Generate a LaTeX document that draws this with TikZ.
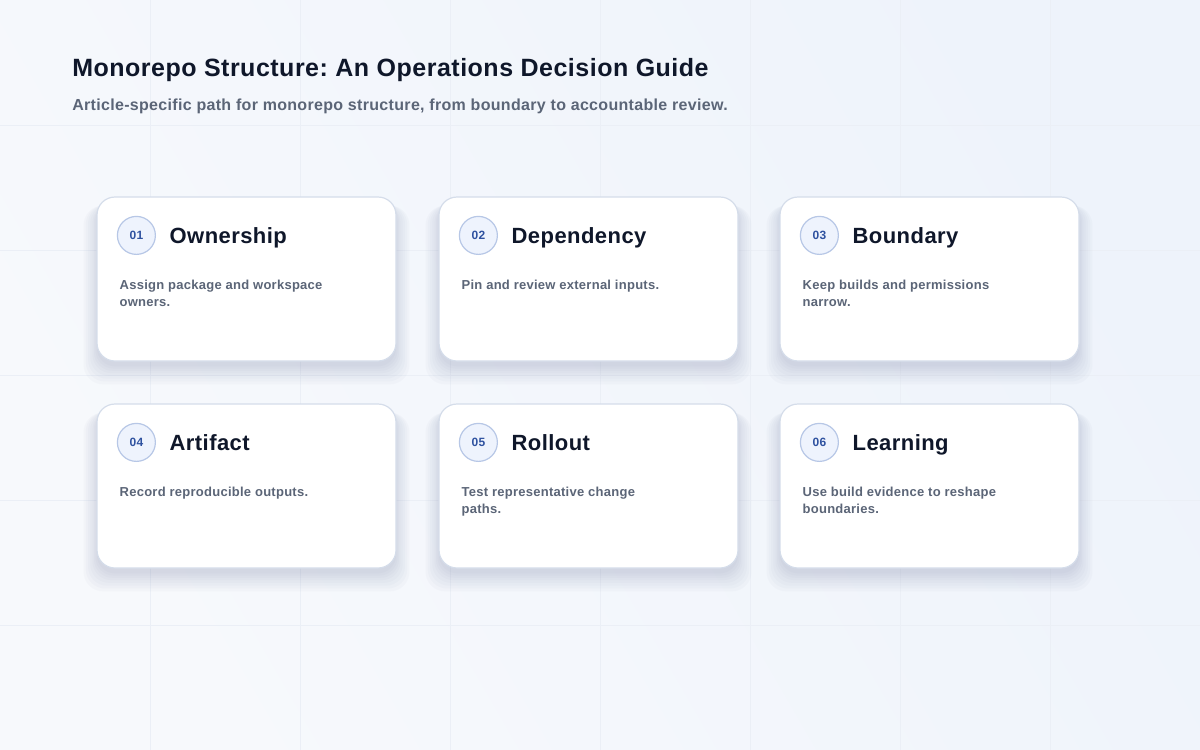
\documentclass[tikz,border=0pt]{standalone}
\usepackage{fontspec}
\setmainfont[LetterSpace=2]{Liberation Sans}
\usepackage{xcolor}
\usepackage{tikz}
\usetikzlibrary{calc,shadows}
\definecolor{PageLight}{HTML}{F7F9FC}
\definecolor{PageBlue}{HTML}{EEF3FB}
\definecolor{GridLine}{HTML}{EBEFF6}
\definecolor{InkDark}{HTML}{0F172A}
\definecolor{InkMuted}{HTML}{5B6577}
\definecolor{CardLine}{HTML}{D5DDEA}
\definecolor{ShadowTint}{HTML}{6A7499}
\definecolor{BadgeFill}{HTML}{EEF3FD}
\definecolor{BadgeLine}{HTML}{B7C7E6}
\definecolor{BadgeInk}{HTML}{2F52A0}
\tikzstyle{softshadow} = [draw=none, fill=ShadowTint, fill opacity=0.03]
\tikzstyle{card} = [rectangle, rounded corners=13.5pt, minimum width=224.25pt, minimum height=123pt, draw=CardLine, fill=white, line width=0.9pt,
  general shadow={softshadow, shadow scale=1.09, shadow yshift=-11pt},
  general shadow={softshadow, shadow scale=1.075, shadow yshift=-10pt},
  general shadow={softshadow, shadow scale=1.06, shadow yshift=-9pt},
  general shadow={softshadow, shadow scale=1.045, shadow yshift=-8pt},
  general shadow={softshadow, shadow scale=1.03, shadow yshift=-7pt},
  general shadow={softshadow, shadow scale=1.02, shadow yshift=-6pt},
  general shadow={softshadow, shadow scale=1.01, shadow yshift=-5pt},
  general shadow={softshadow, shadow scale=1.0, shadow yshift=-4pt}]
\tikzstyle{badge} = [circle, minimum size=28.5pt, inner sep=0pt, draw=BadgeLine, fill=BadgeFill, line width=0.9pt, text=BadgeInk, font=\bfseries\fontsize{9}{10}\selectfont]
\tikzstyle{heading} = [anchor=base west, inner sep=0pt, text=InkDark, font=\bfseries\fontsize{16.5}{19}\selectfont]
\tikzstyle{blurb} = [anchor=north west, inner sep=0pt, align=left, text=InkMuted, font=\bfseries\fontsize{9.75}{12.75}\selectfont]
\tikzstyle{gridline} = [draw=GridLine, line width=0.75pt]

\begin{document}
\frenchspacing
\begin{tikzpicture}[x=0.75pt, y=-0.75pt]

% Fond
\useasboundingbox (0,0) rectangle (1200,750);
\shade[left color=PageLight, right color=PageBlue, shading angle=120] (0,0) rectangle (1200,750);
\foreach \gx in {150,300,...,1050} \draw[gridline] (\gx,0) -- (\gx,750);
\foreach \gy in {125,250,...,625} \draw[gridline] (0,\gy) -- (1200,\gy);

% Titre
\node (title) [anchor=base west, inner sep=0pt, text=InkDark, font=\bfseries\fontsize{18.75}{22}\selectfont] at (72,76.5) {Monorepo Structure: An Operations Decision Guide};
\node (subtitle) [anchor=base west, inner sep=0pt, text=InkMuted, font=\bfseries\fontsize{12}{14}\selectfont] at (72,110) {Article-specific path for monorepo structure, from boundary to accountable review.};

% Rangée 1
\node (own) [card] at (246.5,279) {};
\node (dep) [card] at (588.5,279) {};
\node (bound) [card] at (929.5,279) {};

% Rangée 2
\node (art) [card] at (246.5,486) {};
\node (roll) [card] at (588.5,486) {};
\node (learn) [card] at (929.5,486) {};

% Contenu des cartes
\node (ownnum) [badge] at ($(own.north west)+(40,39)$) {01};
\node (ownhead) [heading] at ($(own.north west)+(73,47)$) {Ownership};
\node (owntext) [blurb] at ($(own.north west)+(23,83.5)$) {Assign package and workspace\\owners.};

\node (depnum) [badge] at ($(dep.north west)+(40,39)$) {02};
\node (dephead) [heading] at ($(dep.north west)+(73,47)$) {Dependency};
\node (deptext) [blurb] at ($(dep.north west)+(23,83.5)$) {Pin and review external inputs.};

\node (boundnum) [badge] at ($(bound.north west)+(40,39)$) {03};
\node (boundhead) [heading] at ($(bound.north west)+(73,47)$) {Boundary};
\node (boundtext) [blurb] at ($(bound.north west)+(23,83.5)$) {Keep builds and permissions\\narrow.};

\node (artnum) [badge] at ($(art.north west)+(40,39)$) {04};
\node (arthead) [heading] at ($(art.north west)+(73,47)$) {Artifact};
\node (arttext) [blurb] at ($(art.north west)+(23,83.5)$) {Record reproducible outputs.};

\node (rollnum) [badge] at ($(roll.north west)+(40,39)$) {05};
\node (rollhead) [heading] at ($(roll.north west)+(73,47)$) {Rollout};
\node (rolltext) [blurb] at ($(roll.north west)+(23,83.5)$) {Test representative change\\paths.};

\node (learnnum) [badge] at ($(learn.north west)+(40,39)$) {06};
\node (learnhead) [heading] at ($(learn.north west)+(73,47)$) {Learning};
\node (learntext) [blurb] at ($(learn.north west)+(23,83.5)$) {Use build evidence to reshape\\boundaries.};

\end{tikzpicture}
\end{document}
